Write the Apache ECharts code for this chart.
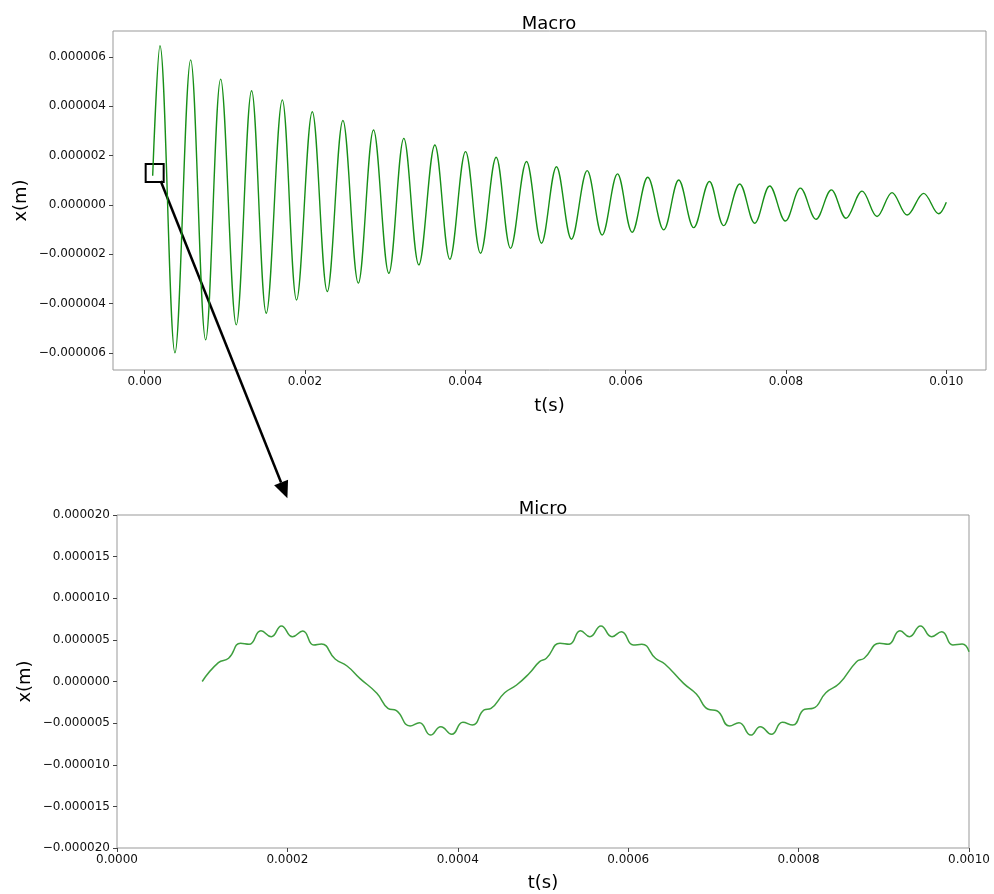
<!DOCTYPE html>
<html lang="en">
<head>
<meta charset="UTF-8">
<title>Macro / Micro</title>
<style>
  html, body { margin: 0; padding: 0; background: #fff; }
  #chart { width: 994px; height: 894px; }
</style>
</head>
<body>
<div id="chart"></div>
<script src="https://cdn.jsdelivr.net/npm/echarts@6/dist/echarts.min.js"></script>
<script>
// displacements are kept in micrometres, the labels turn them back into metres

const macroT = [0.000100,
  0.000191, 0.000378, 0.000574, 0.000761, 0.000948, 0.001143, 0.001334, 0.001517,
  0.001717, 0.001895, 0.002091, 0.002278, 0.002473, 0.002665, 0.002855, 0.003046,
  0.003233, 0.003420, 0.003620, 0.003807, 0.004003, 0.004190, 0.004385, 0.004564,
  0.004763, 0.004950, 0.005137, 0.005324, 0.005520, 0.005707, 0.005898, 0.006081,
  0.006276, 0.006475, 0.006662, 0.006849, 0.007045, 0.007223, 0.007423, 0.007610,
  0.007797, 0.007993, 0.008180, 0.008375, 0.008566, 0.008749, 0.008949, 0.009136,
  0.009323, 0.009511, 0.009717, 0.009905,
  0.010000];
const macroX = [1.18,
  6.45, -5.99, 5.88, -5.47, 5.10, -4.86, 4.63, -4.39,
  4.26, -3.85, 3.78, -3.51, 3.42, -3.17, 3.04, -2.77,
  2.70, -2.43, 2.43, -2.20, 2.16, -1.96, 1.93, -1.76,
  1.76, -1.55, 1.55, -1.39, 1.39, -1.22, 1.26, -1.11,
  1.12, -1.01, 1.01, -0.92, 0.95, -0.84, 0.85, -0.74,
  0.77, -0.65, 0.68, -0.58, 0.61, -0.54, 0.56, -0.47,
  0.50, -0.41, 0.47, -0.36,
  0.11];

// Micro: the ripple points
const microT = [0.000100, 0.000119, 0.000131, 0.000145, 0.000155, 0.000169, 0.000181, 0.000193,
  0.000206, 0.000218, 0.000231, 0.000240, 0.000256, 0.000270, 0.000285, 0.000305,
  0.000318, 0.000328, 0.000344, 0.000355, 0.000368, 0.000380, 0.000393, 0.000406,
  0.000417, 0.000431, 0.000439, 0.000455, 0.000469, 0.000484, 0.000496, 0.000504,
  0.000520, 0.000531, 0.000544, 0.000555, 0.000568, 0.000581, 0.000592, 0.000606,
  0.000616, 0.000632, 0.000643, 0.000665, 0.000680, 0.000694, 0.000704, 0.000719,
  0.000730, 0.000744, 0.000755, 0.000768, 0.000781, 0.000793, 0.000807, 0.000817,
  0.000832, 0.000848, 0.000868, 0.000877, 0.000895, 0.000905, 0.000919, 0.000930,
  0.000943, 0.000956, 0.000968, 0.000981, 0.000992, 0.001000];
const microX = [0.00, 2.26, 2.79, 4.59, 4.47, 6.10, 5.38, 6.67,
  5.38, 6.07, 4.38, 4.50, 2.70, 1.86, 0.38, -1.42,
  -3.22, -3.51, -5.35, -4.95, -6.43, -5.43, -6.34, -4.90,
  -5.23, -3.42, -3.22, -1.35, -0.42, 0.99, 2.38, 2.79,
  4.59, 4.47, 6.10, 5.38, 6.67, 5.38, 5.98, 4.38,
  4.47, 2.79, 2.10, -0.22, -1.50, -3.34, -3.51, -5.35,
  -4.95, -6.43, -5.43, -6.34, -4.90, -5.23, -3.34, -3.22,
  -1.35, -0.22, 2.38, 2.79, 4.59, 4.47, 6.10, 5.38,
  6.67, 5.38, 5.98, 4.38, 4.50, 3.58];

const macroTimeTicks = [0, 0.002, 0.004, 0.006, 0.008, 0.010];
const macroDispTicks = [-6, -4, -2, 0, 2, 4, 6];
const microTimeTicks = [0, 0.0002, 0.0004, 0.0006, 0.0008, 0.0010];
const microDispTicks = [-20, -15, -10, -5, 0, 5, 10, 15, 20];

// zoom box on the macro plot and where the arrow lands on the micro plot
const boxCorners = [[0.0000125, 1.66], [0.000237, 0.93]];
const arrowFrom = [0.0002, 0.97];   // macro coords
const arrowTo = [0.0002, 22.0];     // micro coords

const FONT = 'DejaVu Sans';

function dispLabel(v) {
  return (v / 1e6).toFixed(6).replace('-', '\u2212');
}

function timeAxis(gridIndex, min, max, ticks, digits, gap) {
  return {
    type: 'value', gridIndex: gridIndex, min: min, max: max,
    name: 't(s)', nameLocation: 'middle', nameGap: gap, nameMoveOverlap: false,
    nameTextStyle: { fontFamily: FONT, fontSize: 18, color: '#000' },
    axisLine: { show: false, onZero: false },
    axisTick: { show: true, length: 4, customValues: ticks, lineStyle: { color: '#444' } },
    axisLabel: {
      customValues: ticks, margin: 6, fontFamily: FONT, fontSize: 12, color: '#111',
      formatter: v => v.toFixed(digits)
    },
    splitLine: { show: false }
  };
}

function dispAxis(gridIndex, min, max, ticks, gap) {
  return {
    type: 'value', gridIndex: gridIndex, min: min, max: max,
    name: 'x(m)', nameLocation: 'middle', nameGap: gap, nameRotate: 90, nameMoveOverlap: false,
    nameTextStyle: { fontFamily: FONT, fontSize: 18, color: '#000' },
    axisLine: { show: false, onZero: false },
    axisTick: { show: true, length: 4, customValues: ticks, lineStyle: { color: '#444' } },
    axisLabel: {
      customValues: ticks, margin: 7, fontFamily: FONT, fontSize: 12, color: '#111',
      formatter: dispLabel
    },
    splitLine: { show: false }
  };
}

const chart = echarts.init(document.getElementById('chart'));

chart.setOption({
  animation: false,
  backgroundColor: '#fff',
  title: [
    { text: 'Macro', left: 544, top: 10, textAlign: 'center',
      textStyle: { fontFamily: FONT, fontSize: 18, fontWeight: 'normal', color: '#000' } },
    { text: 'Micro', left: 538, top: 495, textAlign: 'center',
      textStyle: { fontFamily: FONT, fontSize: 18, fontWeight: 'normal', color: '#000' } }
  ],
  grid: [
    { left: 113, top: 31, width: 873, height: 339, show: true,
      borderColor: '#999', borderWidth: 1, backgroundColor: 'transparent' },
    { left: 117, top: 515, width: 852, height: 333, show: true,
      borderColor: '#999', borderWidth: 1, backgroundColor: 'transparent' }
  ],
  xAxis: [
    timeAxis(0, -0.000395, 0.010495, macroTimeTicks, 3, 27),
    timeAxis(1, 0, 0.001, microTimeTicks, 4, 26)
  ],
  yAxis: [
    dispAxis(0, -6.69, 7.05, macroDispTicks, 83),
    dispAxis(1, -20, 20, microDispTicks, 83)
  ],
  series: [
    {
      type: 'line', name: 'macro', xAxisIndex: 0, yAxisIndex: 0,
      data: macroT.map((t, i) => [t, macroX[i]]),
      showSymbol: false, smooth: 0.36,
      lineStyle: { color: '#178f17', width: 1.4 },
      markArea: {
        silent: true,
        itemStyle: { color: 'rgba(0,0,0,0)', borderColor: '#000', borderWidth: 2 },
        data: [[{ coord: boxCorners[0] }, { coord: boxCorners[1] }]]
      }
    },
    {
      type: 'line', name: 'micro', xAxisIndex: 1, yAxisIndex: 1,
      data: microT.map((t, i) => [t, microX[i]]),
      showSymbol: false, smooth: 0.5,
      lineStyle: { color: '#3f9f3f', width: 1.5 }
    }
  ]
});

// arrow from the zoom box down to the micro plot
const p0 = chart.convertToPixel({ xAxisIndex: 0, yAxisIndex: 0 }, arrowFrom);
const p1 = chart.convertToPixel({ xAxisIndex: 1, yAxisIndex: 1 }, arrowTo);
const dx = p1[0] - p0[0], dy = p1[1] - p0[1];
const len = Math.sqrt(dx * dx + dy * dy);
const ux = dx / len, uy = dy / len;
const headLen = 17, headHalf = 7.5;
const bx = p1[0] - ux * headLen, by = p1[1] - uy * headLen;

chart.setOption({
  graphic: [
    { type: 'line', silent: true,
      shape: { x1: p0[0], y1: p0[1], x2: bx, y2: by },
      style: { stroke: '#000', lineWidth: 2.5 } },
    { type: 'polygon', silent: true,
      shape: { points: [[p1[0], p1[1]],
        [bx - uy * headHalf, by + ux * headHalf],
        [bx + uy * headHalf, by - ux * headHalf]] },
      style: { fill: '#000' } }
  ]
});
</script>
</body>
</html>
